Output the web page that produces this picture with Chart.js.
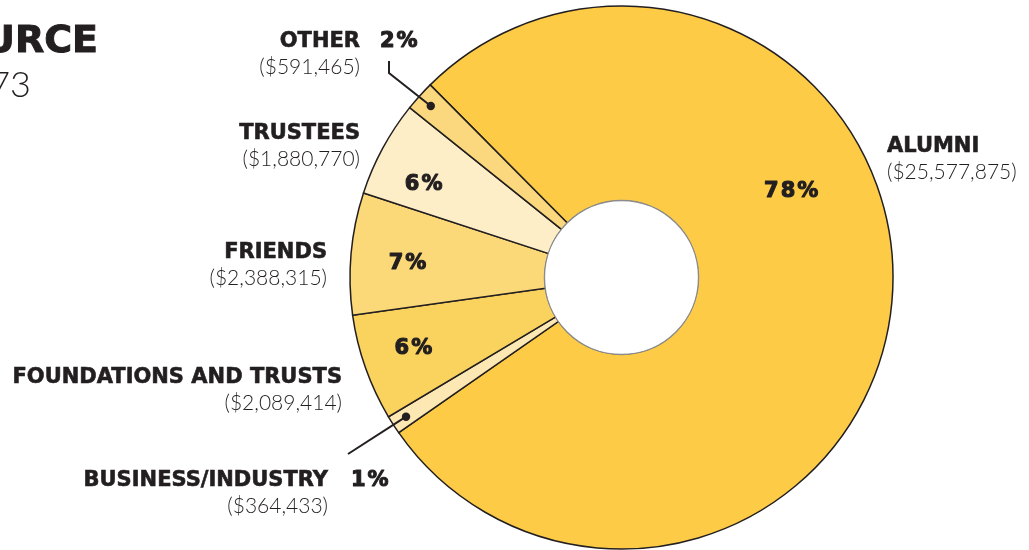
<!DOCTYPE html>
<html>
<head>
<meta charset="utf-8">
<script src="https://cdn.jsdelivr.net/npm/chart.js@4.4.1/dist/chart.umd.min.js"></script>
<style>
  html, body { margin: 0; padding: 0; background: #fff; overflow: hidden; }
  #wrap { width: 1029px; height: 550px; }
</style>
</head>
<body>
<div id="wrap"><canvas id="giftChart" width="1029" height="550"></canvas></div>
<script>
// gifts by source, clockwise from the alumni slice
const sources = ['ALUMNI', 'BUSINESS/INDUSTRY', 'FOUNDATIONS AND TRUSTS', 'FRIENDS', 'TRUSTEES', 'OTHER'];
const amounts = [25577875, 364433, 2089414, 2388315, 1880770, 591465];
const amountLabels = ['($25,577,875)', '($364,433)', '($2,089,414)', '($2,388,315)', '($1,880,770)', '($591,465)'];
const pctLabels = ['78%', '1%', '6%', '7%', '6%', '2%'];
const titleLines = ['GIFTS BY SOURCE', '$32,892,273'];

const sliceColors = ['#FDCB46', '#FDE8B3', '#FAD25E', '#FBD878', '#FDEEC8', '#FBD87D'];
const ink = '#231F20';

// where the % sits inside a slice: [fraction along arc, fraction of outer radius]
const insideSpot = [[0.386, 0.70], null, [0.523, 0.81], [0.447, 0.79], [0.34, 0.805], null];

// outer name/amount labels (text anchor, align)
const nameSpot = [
  { x: 887, y: 152, align: 'left' },
  { x: 328, y: 486, align: 'right', pct: 351 },
  { x: 342, y: 383, align: 'right' },
  { x: 327, y: 258, align: 'right' },
  { x: 360, y: 139, align: 'right' },
  { x: 360, y: 47, align: 'right', pct: 380 }
];

const NAME_FONT = 'bold 21px "DejaVu Sans"';
const VALUE_FONT = '300 21px Lato, "Open Sans", sans-serif';
const PCT_FONT = 'bold 21px "DejaVu Sans"';

function pctText(ctx, txt, x, y, align) {
  ctx.save();
  ctx.font = PCT_FONT;
  ctx.letterSpacing = '2px';
  ctx.fillStyle = ink;
  ctx.strokeStyle = ink;
  ctx.lineWidth = 1.1;
  ctx.lineJoin = 'round';
  ctx.textAlign = align;
  ctx.fillText(txt, x, y);
  ctx.strokeText(txt, x, y);
  ctx.restore();
}

const labelPlugin = {
  id: 'giftLabels',
  afterDatasetsDraw(chart) {
    const ctx = chart.ctx;
    const arcs = chart.getDatasetMeta(0).data;
    const cx = arcs[0].x, cy = arcs[0].y;
    const inner = arcs[0].innerRadius, outer = arcs[0].outerRadius;

    // hole with grey rim
    ctx.save();
    ctx.beginPath();
    ctx.arc(cx, cy, inner + 0.5, 0, Math.PI * 2);
    ctx.fillStyle = '#fff';
    ctx.fill();
    ctx.lineWidth = 1.4;
    ctx.strokeStyle = '#8c8c8c';
    ctx.stroke();
    ctx.restore();

    // % inside the bigger slices
    arcs.forEach((arc, i) => {
      const spot = insideSpot[i];
      if (!spot) return;
      const a = arc.startAngle + (arc.endAngle - arc.startAngle) * spot[0];
      const r = outer * spot[1];
      ctx.save();
      ctx.textBaseline = 'middle';
      pctText(ctx, pctLabels[i], cx + Math.cos(a) * r + 1, cy + Math.sin(a) * r, 'center');
      ctx.restore();
    });

    // names and amounts
    ctx.save();
    ctx.fillStyle = ink;
    ctx.strokeStyle = ink;
    ctx.lineWidth = 0.6;
    ctx.textBaseline = 'alphabetic';
    sources.forEach((name, i) => {
      const s = nameSpot[i];
      ctx.textAlign = s.align;
      ctx.font = NAME_FONT;
      ctx.fillText(name, s.x, s.y);
      ctx.strokeText(name, s.x, s.y);
      ctx.font = VALUE_FONT;
      ctx.fillText(amountLabels[i], s.x, s.y + 27);
      if (s.pct) pctText(ctx, pctLabels[i], s.pct, s.y, 'left');
    });
    ctx.restore();

    // leader lines for the thin slices
    const dot = (i) => {
      const arc = arcs[i];
      const a = (arc.startAngle + arc.endAngle) / 2;
      return [cx + Math.cos(a) * (outer - 15), cy + Math.sin(a) * (outer - 15)];
    };
    ctx.save();
    ctx.strokeStyle = ink;
    ctx.fillStyle = ink;
    ctx.lineWidth = 2;
    const o = dot(5);
    ctx.beginPath();
    ctx.moveTo(389, 61);
    ctx.lineTo(389, 73);
    ctx.lineTo(o[0], o[1]);
    ctx.stroke();
    ctx.beginPath();
    ctx.arc(o[0], o[1], 4.2, 0, Math.PI * 2);
    ctx.fill();
    const b = dot(1);
    ctx.beginPath();
    ctx.moveTo(348, 454);
    ctx.lineTo(b[0], b[1]);
    ctx.stroke();
    ctx.beginPath();
    ctx.arc(b[0], b[1], 4.2, 0, Math.PI * 2);
    ctx.fill();
    ctx.restore();

    // title, running off the left edge
    ctx.save();
    ctx.fillStyle = ink;
    ctx.strokeStyle = ink;
    ctx.lineWidth = 1;
    ctx.textAlign = 'right';
    ctx.font = 'bold 38px "DejaVu Sans"';
    ctx.fillText(titleLines[0], 98, 52);
    ctx.strokeText(titleLines[0], 98, 52);
    ctx.font = '300 36px Lato, "Open Sans", sans-serif';
    ctx.fillText(titleLines[1], 31, 97);
    ctx.restore();
  }
};

new Chart(document.getElementById('giftChart'), {
  type: 'doughnut',
  data: {
    labels: sources,
    datasets: [{
      data: amounts,
      backgroundColor: sliceColors,
      borderColor: ink,
      borderWidth: 1.5,
      borderJoinStyle: 'miter'
    }]
  },
  options: {
    responsive: false,
    animation: false,
    rotation: -44.8,
    radius: 271.5,
    cutout: '28.2%',
    layout: { padding: { left: 214, right: 0, top: 5, bottom: 0 } },
    plugins: {
      legend: { display: false },
      tooltip: { enabled: false }
    }
  },
  plugins: [labelPlugin]
});
</script>
</body>
</html>
